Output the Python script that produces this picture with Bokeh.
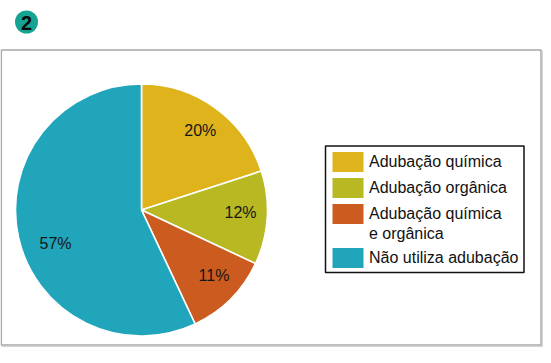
import math
from bokeh.plotting import figure
from bokeh.models import Range1d, ColumnDataSource
from bokeh.core.properties import value
from bokeh.embed import file_html
from bokeh.resources import INLINE

# ---- data ----
categories = ["Adubação química", "Adubação orgânica",
              "Adubação química e orgânica", "Não utiliza adubação"]
values = [20, 12, 11, 57]
colors = ["#dfb31b", "#b7b822", "#cb5b1f", "#21a5ba"]
legend_lines = [["Adubação química"], ["Adubação orgânica"],
                ["Adubação química", "e orgânica"], ["Não utiliza adubação"]]
badge_label = "2"

# ---- layout (screen px, origin at figure top-left) ----
W, H = 543, 347
def Y(v):
    return H - v

FONT = value("Liberation Sans")

p = figure(width=W, height=H, x_range=Range1d(0, W), y_range=Range1d(0, H),
           output_backend="svg", toolbar_location=None, min_border=0,
           x_axis_type=None, y_axis_type=None, outline_line_color=None)
p.grid.visible = False
p.background_fill_color = "white"
p.border_fill_color = "white"

# outer frame
p.quad(left=0.8, right=W - 2.5, bottom=Y(H - 2.5), top=Y(49.5), fill_color=None,
       line_color="#a8a8a8", line_width=1.5)
p.segment(x0=[W - 1.5, 1], y0=[Y(50), Y(H - 1.5)], x1=[W - 1.5, W - 1], y1=[Y(H - 1.5), Y(H - 1.5)],
          line_color="#c4c4c4", line_width=1.5)

# badge
p.circle(x=[26], y=[Y(21.5)], radius=11.5, fill_color="#17a392", line_color=None)
p.text(x=[26], y=[Y(22)], text=[badge_label], text_font=FONT, text_font_style="bold",
       text_font_size="20px", text_color="#0a0a0a", text_align="center",
       text_baseline="middle")

# pie
cx, cy, R = 141, Y(209.5), 126
total = float(sum(values))
starts, ends, mids = [], [], []
acc = 0.0
for v in values:
    a0 = math.pi / 2 - 2 * math.pi * acc / total
    acc += v
    a1 = math.pi / 2 - 2 * math.pi * acc / total
    starts.append(a1)
    ends.append(a0)
    mids.append((a0 + a1) / 2)
src = ColumnDataSource(dict(start=starts, end=ends, color=colors, cat=categories))
p.wedge(x=cx, y=cy, radius=R, start_angle="start", end_angle="end",
        fill_color="color", line_color="white", line_width=1.6, source=src)

# percent labels
nudges = [(1, 0), (1, 3.5), (3, 4), (10, -12.5)]
lr = 0.78 * R
lx = [cx + lr * math.cos(m) + n[0] for m, n in zip(mids, nudges)]
ly = [cy + lr * math.sin(m) + n[1] for m, n in zip(mids, nudges)]
p.text(x=lx, y=ly, text=[f"{v}%" for v in values], text_font=FONT,
       text_font_size="16px", text_color="#161616", text_align="center",
       text_baseline="middle")

# legend box
p.quad(left=325, right=523.5, bottom=Y(272), top=Y(145.5), fill_color="white",
       line_color="#111111", line_width=1.5)
row_y = []
y0 = 161.5
for lines in legend_lines:
    row_y.append(y0)
    y0 += 26 + (len(lines) - 1) * 18
p.rect(x=[347.5] * len(row_y), y=[Y(v) for v in row_y], width=31, height=20,
       fill_color=colors, line_color=None)
tx, ty, tt = [], [], []
for ry, lines in zip(row_y, legend_lines):
    for i, ln in enumerate(lines):
        tx.append(368.5)
        ty.append(Y(ry - 0.5 + i * 20))
        tt.append(ln)
p.text(x=tx, y=ty, text=tt, text_font=FONT, text_font_size="16px",
       text_color="#111111", text_align="left", text_baseline="middle")

open("out.html", "w").write(file_html(p, INLINE))
